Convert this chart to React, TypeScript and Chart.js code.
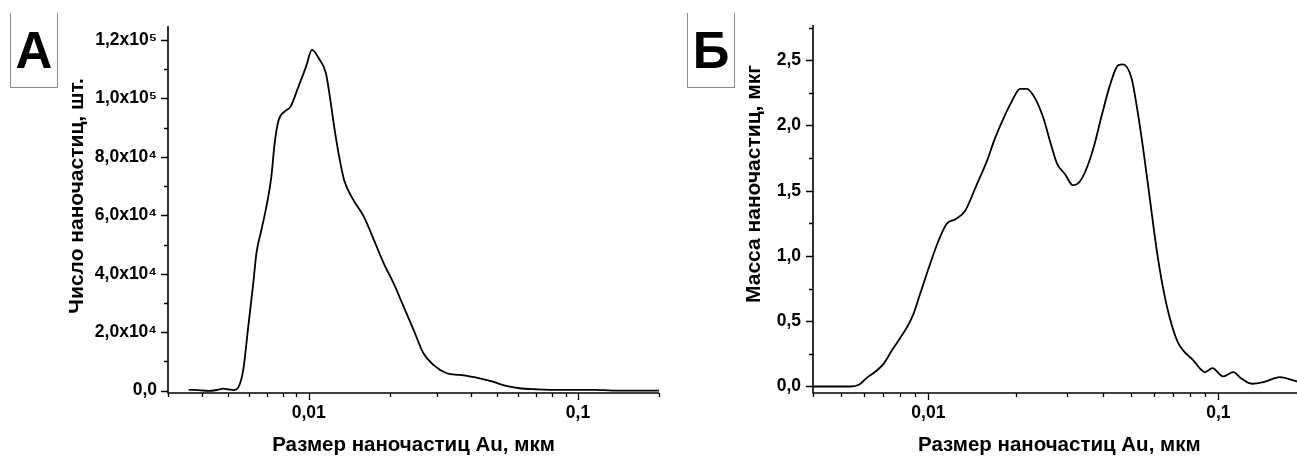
import React, { useEffect, useRef } from 'react';
import { Chart, registerables } from 'chart.js';

Chart.register(...registerables);

// ---------- Data: panel А (number of nanoparticles) ----------
const SIZE_A = [0.00358, 0.0039, 0.00424, 0.0046, 0.00482, 0.00505, 0.00525, 0.0055, 0.00571, 0.00596, 0.00622, 0.00639, 0.00667, 0.00696, 0.00726, 0.00747, 0.00773, 0.00813, 0.00856, 0.00911, 0.00977, 0.01028, 0.0109, 0.01158, 0.01208, 0.01243, 0.01297, 0.01353, 0.01453, 0.01603, 0.01745, 0.01899, 0.02067, 0.02253, 0.02451, 0.02667, 0.02904, 0.03254, 0.0364, 0.0431, 0.0483, 0.0541, 0.0606, 0.0699, 0.085, 0.1128, 0.1497, 0.2];
const COUNT_A = [300, 200, -100, 300, 700, 400, 200, 1500, 7100, 21900, 36700, 47000, 55000, 63000, 73200, 84700, 92600, 95500, 97200, 103500, 110900, 116600, 113700, 108600, 98300, 90300, 80100, 72100, 65800, 59500, 51600, 43600, 36700, 28700, 20800, 12800, 8800, 5950, 5370, 4240, 3080, 1600, 820, 480, 240, 240, 0, 0];

// ---------- Data: panel Б (mass of nanoparticles) ----------
const SIZE_B = [0.004, 0.0054, 0.00578, 0.00613, 0.00664, 0.007, 0.00748, 0.00788, 0.00843, 0.00888, 0.00936, 0.01013, 0.01083, 0.01157, 0.01236, 0.01338, 0.01468, 0.0159, 0.01698, 0.01839, 0.01938, 0.02071, 0.02185, 0.02333, 0.02494, 0.02629, 0.02773, 0.02966, 0.0315, 0.03335, 0.03518, 0.0371, 0.03967, 0.04233, 0.0452, 0.04697, 0.0502, 0.05223, 0.05502, 0.058, 0.06114, 0.06445, 0.06795, 0.07255, 0.082, 0.09, 0.0954, 0.104, 0.1126, 0.1204, 0.1304, 0.143, 0.1632, 0.1814, 0.2];
const MASS_B = [0, 0, 0.015, 0.066, 0.122, 0.173, 0.275, 0.351, 0.453, 0.555, 0.708, 0.937, 1.115, 1.247, 1.28, 1.344, 1.547, 1.725, 1.903, 2.082, 2.183, 2.28, 2.28, 2.208, 2.056, 1.878, 1.712, 1.624, 1.542, 1.573, 1.674, 1.827, 2.082, 2.311, 2.463, 2.468, 2.361, 2.158, 1.827, 1.445, 1.063, 0.758, 0.529, 0.338, 0.2, 0.11, 0.14, 0.077, 0.11, 0.059, 0.021, 0.033, 0.071, 0.046, 0.02];

// ---------- Ticks ----------
const X_TICKS_A = [0.003, 0.004, 0.005, 0.006, 0.007, 0.008, 0.009, 0.01, 0.02, 0.03, 0.04, 0.05, 0.06, 0.07, 0.08, 0.09, 0.1, 0.2];
const X_TICKS_B = [0.004, 0.005, 0.006, 0.007, 0.008, 0.009, 0.01, 0.02, 0.03, 0.04, 0.05, 0.06, 0.07, 0.08, 0.09, 0.1, 0.2];
const X_MAJOR = [0.01, 0.1];
const X_MAJOR_LABELS = ['0,01', '0,1'];

const Y_TICKS_A = [0, 10000, 20000, 30000, 40000, 50000, 60000, 70000, 80000, 90000, 100000, 110000, 120000];
const Y_MAJOR_A = [0, 20000, 40000, 60000, 80000, 100000, 120000];
const Y_MAJOR_LABELS_A = ['0,0', '2,0x10⁴', '4,0x10⁴', '6,0x10⁴', '8,0x10⁴', '1,0x10⁵', '1,2x10⁵'];

const Y_TICKS_B = [0, 0.25, 0.5, 0.75, 1, 1.25, 1.5, 1.75, 2, 2.25, 2.5, 2.75];
const Y_MAJOR_B = [0, 0.5, 1, 1.5, 2, 2.5];
const Y_MAJOR_LABELS_B = ['0,0', '0,5', '1,0', '1,5', '2,0', '2,5'];

const X_TITLE = 'Размер наночастиц Au, мкм';
const Y_TITLE_A = 'Число наночастиц, шт.';
const Y_TITLE_B = 'Масса наночастиц, мкг';

const FONT_FAMILY = "'Liberation Sans', Arial, Helvetica, sans-serif";

function labelFor(v: number, majors: number[], labels: string[]): string {
  for (let i = 0; i < majors.length; i++) {
    const m = majors[i];
    if (Math.abs(v - m) <= Math.max(Math.abs(m) * 1e-6, 1e-12)) return labels[i];
  }
  return '';
}

function makeAxesPlugin(yTitle: string, titleX: number, titleY: number) {
  return {
    id: 'originAxes',
    afterDraw(chart: any) {
      const { ctx, chartArea: a, scales } = chart;
      const xs = scales.x;
      const ys = scales.y;
      ctx.save();
      ctx.strokeStyle = '#000';
      ctx.lineWidth = 1.6;
      ctx.lineCap = 'butt';
      ctx.beginPath();
      ctx.moveTo(a.left, a.top);
      ctx.lineTo(a.left, a.bottom);
      ctx.lineTo(a.right, a.bottom);
      ctx.stroke();
      ctx.lineWidth = 1.3;
      ctx.beginPath();
      xs.ticks.forEach((t: any) => {
        const p = Math.round(xs.getPixelForValue(t.value)) + 0.5;
        const len = t.label ? 7 : 4;
        ctx.moveTo(p, a.bottom);
        ctx.lineTo(p, a.bottom + len);
      });
      ys.ticks.forEach((t: any) => {
        const p = Math.round(ys.getPixelForValue(t.value)) + 0.5;
        const len = t.label ? 7 : 4;
        ctx.moveTo(a.left, p);
        ctx.lineTo(a.left - len, p);
      });
      ctx.stroke();
      // rotated y-axis title
      ctx.translate(titleX, titleY);
      ctx.rotate(-Math.PI / 2);
      ctx.fillStyle = '#000';
      ctx.font = `bold 21px ${FONT_FAMILY}`;
      ctx.textAlign = 'center';
      ctx.textBaseline = 'middle';
      ctx.fillText(yTitle, 0, 0);
      ctx.restore();
    },
  };
}

interface PanelCfg {
  xs: number[];
  ys: number[];
  xMin: number;
  xMax: number;
  yMin: number;
  yMax: number;
  xTicks: number[];
  yTicks: number[];
  yMajor: number[];
  yLabels: string[];
  yTitle: string;
  titleX: number;
  titleY: number;
  padTop: number;
  padRight: number;
  yWidth: number;
  yTickPad: number;
}

function makeChart(canvas: HTMLCanvasElement, c: PanelCfg) {
  const tickFont = { family: FONT_FAMILY, size: 17.5, weight: 'bold' as const };
  const titleFont = { family: FONT_FAMILY, size: 20.5, weight: 'bold' as const };
  return new Chart(canvas, {
    type: 'line',
    data: {
      datasets: [
        {
          data: c.xs.map((x, i) => ({ x, y: c.ys[i] })),
          borderColor: '#000',
          borderWidth: 1.8,
          pointRadius: 0,
          fill: false,
          cubicInterpolationMode: 'monotone',
        },
      ],
    },
    options: {
      responsive: false,
      animation: false,
      devicePixelRatio: 1,
      layout: { padding: { top: c.padTop, right: c.padRight, left: 0, bottom: 0 } },
      plugins: { legend: { display: false }, tooltip: { enabled: false } },
      scales: {
        x: {
          type: 'logarithmic',
          min: c.xMin,
          max: c.xMax,
          grid: { display: false, drawTicks: false },
          border: { display: false },
          afterBuildTicks: (s: any) => {
            s.ticks = c.xTicks.map((v) => ({ value: v }));
          },
          afterFit: (s: any) => {
            s.height = 63;
          },
          ticks: {
            autoSkip: false,
            maxRotation: 0,
            minRotation: 0,
            padding: 10,
            color: '#000',
            font: tickFont,
            callback: (v: any) => labelFor(Number(v), X_MAJOR, X_MAJOR_LABELS),
          },
          title: {
            display: true,
            text: X_TITLE,
            color: '#000',
            font: titleFont,
            padding: { top: 0, bottom: -2 },
          },
        },
        y: {
          type: 'linear',
          min: c.yMin,
          max: c.yMax,
          grid: { display: false, drawTicks: false },
          border: { display: false },
          afterBuildTicks: (s: any) => {
            s.ticks = c.yTicks.map((v) => ({ value: v }));
          },
          afterFit: (s: any) => {
            s.width = c.yWidth;
          },
          ticks: {
            autoSkip: false,
            padding: c.yTickPad,
            color: '#000',
            font: tickFont,
            callback: (v: any) => labelFor(Number(v), c.yMajor, c.yLabels),
          },
          title: { display: false },
        },
      },
    },
    plugins: [makeAxesPlugin(c.yTitle, c.titleX, c.titleY)],
  } as any);
}

const boxStyle = (left: number): React.CSSProperties => ({
  position: 'absolute',
  left,
  top: 13,
  width: 48,
  height: 75,
  boxSizing: 'border-box',
  borderLeft: '1px solid #8a8a8a',
  borderRight: '1px solid #8a8a8a',
  borderBottom: '1px solid #8a8a8a',
  display: 'flex',
  alignItems: 'center',
  justifyContent: 'center',
  fontFamily: FONT_FAMILY,
  fontWeight: 'bold',
  fontSize: 51,
  lineHeight: '51px',
  color: '#000',
});

export default function App() {
  const refA = useRef<HTMLCanvasElement>(null);
  const refB = useRef<HTMLCanvasElement>(null);

  useEffect(() => {
    const chartA = makeChart(refA.current!, {
      xs: SIZE_A,
      ys: COUNT_A,
      xMin: 0.003,
      xMax: 0.2,
      yMin: -800,
      yMax: 124800,
      xTicks: X_TICKS_A,
      yTicks: Y_TICKS_A,
      yMajor: Y_MAJOR_A,
      yLabels: Y_MAJOR_LABELS_A,
      yTitle: Y_TITLE_A,
      titleX: 77,
      titleY: 196,
      padTop: 26,
      padRight: 11,
      yWidth: 168,
      yTickPad: 11,
    });
    const chartB = makeChart(refB.current!, {
      xs: SIZE_B,
      ys: MASS_B,
      xMin: 0.004,
      xMax: 0.2,
      yMin: -0.05,
      yMax: 2.77,
      xTicks: X_TICKS_B,
      yTicks: Y_TICKS_B,
      yMajor: Y_MAJOR_B,
      yLabels: Y_MAJOR_LABELS_B,
      yTitle: Y_TITLE_B,
      titleX: 74,
      titleY: 184,
      padTop: 25,
      padRight: 14.4,
      yWidth: 133,
      yTickPad: 12,
    });
    return () => {
      chartA.destroy();
      chartB.destroy();
    };
  }, []);

  return (
    <div
      style={{
        position: 'absolute',
        left: 0,
        top: 0,
        width: 1297,
        height: 456,
        overflow: 'hidden',
        background: '#fff',
      }}
    >
      <canvas ref={refA} width={670} height={456} style={{ position: 'absolute', left: 0, top: 0 }} />
      <canvas ref={refB} width={640} height={456} style={{ position: 'absolute', left: 680, top: 0 }} />
      <div style={boxStyle(10)}>А</div>
      <div style={boxStyle(687)}>Б</div>
    </div>
  );
}
